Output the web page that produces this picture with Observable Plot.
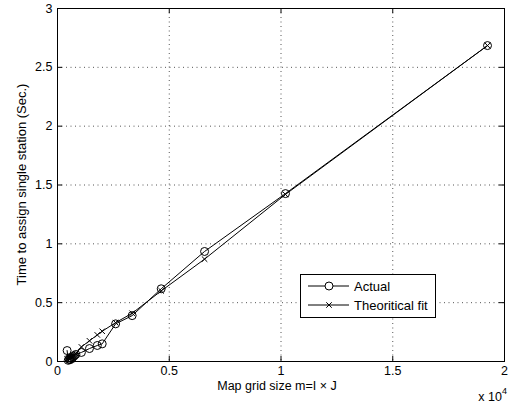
<!DOCTYPE html>
<html><head><meta charset="utf-8">
<script src="https://cdn.jsdelivr.net/npm/d3@7"></script>
<script src="https://cdn.jsdelivr.net/npm/@observablehq/plot@0.6"></script>
<style>html,body{margin:0;padding:0;background:#fff} svg{display:block}</style>
</head><body><div id="chart"></div>
<script>
// Map grid size m = I x J (raw cells; axis shows x 10^4)
const gridSize   = [430, 480, 520, 560, 600, 650, 700, 760, 820, 1070, 1430, 1780, 2000, 2600, 3340, 4640, 6580, 10200, 19240];
const actualTime = [0.093, 0.01, 0.02, 0.015, 0.03, 0.025, 0.04, 0.05, 0.06, 0.077, 0.11, 0.136, 0.15, 0.32, 0.39, 0.618, 0.935, 1.427, 2.685];
const fitTime    = [0.02, 0.026, 0.03, 0.033, 0.037, 0.043, 0.05, 0.058, 0.065, 0.124, 0.176, 0.226, 0.257, 0.33, 0.41, 0.60, 0.87, 1.42, 2.685];
const xTicks = [0, 5000, 10000, 15000, 20000];
const yTicks = [0, 0.5, 1, 1.5, 2, 2.5, 3];
const seriesNames = ["Actual", "Theoritical fit"];
const xLabel = "Map grid size m=I \u00d7 J";
const yLabel = "Time to assign single station (Sec.)";
const xExponent = "4";

const actual = gridSize.map((m, i) => ({m, t: actualTime[i]}));
const fit = gridSize.map((m, i) => ({m, t: fitTime[i]}));

const W = 510, H = 405, mL = 57, mR = 6, mT = 8, mB = 44;
const plotW = W - mL - mR, plotH = H - mT - mB;
const tick = 5;
const font = "'Liberation Sans', Arial, Helvetica, sans-serif";
const fs = 12.5;

const chart = Plot.plot({
  width: W, height: H,
  marginLeft: mL, marginRight: mR, marginTop: mT, marginBottom: mB,
  style: {fontFamily: font, fontSize: fs + "px", color: "#000", background: "#fff", overflow: "visible"},
  x: {domain: [0, 20000]},
  y: {domain: [0, 3]},
  marks: [
    Plot.gridX(xTicks.slice(1, -1), {stroke: "#555", strokeOpacity: 1, strokeDasharray: "1,3.5"}),
    Plot.gridY(yTicks.slice(1, -1), {stroke: "#555", strokeOpacity: 1, strokeDasharray: "1,3.5"}),
    Plot.tickX(xTicks, {x: d => d, stroke: "#000", insetTop: plotH - tick}),
    Plot.tickX(xTicks, {x: d => d, stroke: "#000", insetBottom: plotH - tick}),
    Plot.tickY(yTicks, {y: d => d, stroke: "#000", insetRight: plotW - tick}),
    Plot.tickY(yTicks, {y: d => d, stroke: "#000", insetLeft: plotW - tick}),
    Plot.axisX(xTicks, {tickSize: 0, tickPadding: 5, tickFormat: d => d / 1e4, label: null, fill: "#000"}),
    Plot.axisY(yTicks, {tickSize: 0, tickPadding: 5, tickFormat: d => d, label: null, fill: "#000"}),
    Plot.line(actual, {x: "m", y: "t", stroke: "#000", strokeWidth: 1}),
    Plot.dot(actual, {x: "m", y: "t", r: 4, stroke: "#000", fill: "none", strokeWidth: 1}),
    Plot.line(fit, {x: "m", y: "t", stroke: "#000", strokeWidth: 1}),
    Plot.dot(fit, {x: "m", y: "t", symbol: "times", r: 2.6, stroke: "#000", strokeWidth: 1}),
    Plot.frame({stroke: "#000", strokeWidth: 1})
  ]
});
document.getElementById("chart").append(chart);

const svg = d3.select(chart);
svg.append("text")
  .attr("x", 277).attr("y", 390)
  .attr("text-anchor", "middle")
  .attr("font-family", font).attr("font-size", fs).attr("fill", "#000")
  .text(xLabel);
svg.append("text")
  .attr("transform", `translate(21,${mT + plotH / 2}) rotate(-90)`)
  .attr("text-anchor", "middle").attr("dy", "0.35em")
  .attr("font-family", font).attr("font-size", 13).attr("fill", "#000")
  .text(yLabel);
const ex = svg.append("text")
  .attr("x", 507).attr("y", 401)
  .attr("text-anchor", "end")
  .attr("font-family", font).attr("font-size", fs).attr("fill", "#000");
ex.append("tspan").text("x 10");
ex.append("tspan").attr("font-size", 9).attr("dy", -7).text(xExponent);

// legend
const lg = svg.append("g").attr("font-family", font).attr("font-size", 13).attr("text-anchor", "start");
lg.append("rect").attr("x", 300.5).attr("y", 274.5).attr("width", 135).attr("height", 43)
  .attr("fill", "#fff").attr("stroke", "#000");
const rows = [286, 305];
seriesNames.forEach((name, i) => {
  const y = rows[i];
  lg.append("line").attr("x1", 308).attr("x2", 349).attr("y1", y).attr("y2", y).attr("stroke", "#000");
  if (i === 0) {
    lg.append("circle").attr("cx", 329).attr("cy", y).attr("r", 4).attr("fill", "#fff").attr("stroke", "#000");
  } else {
    lg.append("path").attr("transform", `translate(329,${y})`)
      .attr("d", d3.symbol(d3.symbolTimes, Math.PI * 2.6 * 2.6)()).attr("stroke", "#000").attr("fill", "none");
  }
  lg.append("text").attr("x", 354).attr("y", y).attr("dy", "0.35em").attr("text-anchor", "start").attr("fill", "#000").text(name);
});
</script>
</body></html>
